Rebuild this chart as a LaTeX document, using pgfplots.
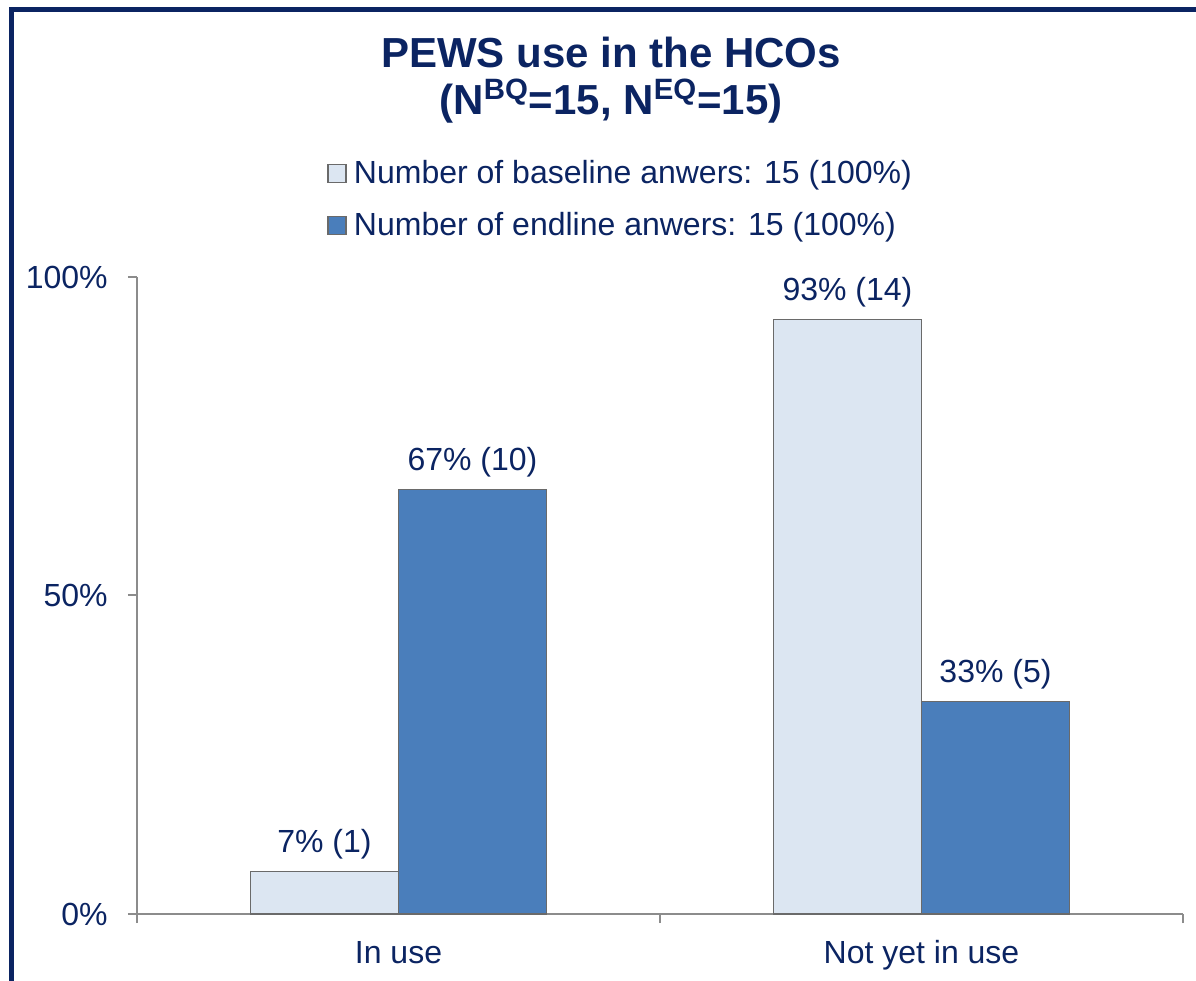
\documentclass[border=0pt]{standalone}
\usepackage{pgfplots}
\pgfplotsset{compat=1.18}
\usepackage{fontspec}
\setmainfont{Liberation Sans}

\definecolor{navy}{HTML}{0B2462}
\definecolor{lightbar}{HTML}{DCE6F2}
\definecolor{bluebar}{HTML}{4A7EBB}
\definecolor{barline}{HTML}{6A6A6A}
\definecolor{axisgray}{HTML}{8C8C8C}

\newcommand{\lbl}{\fontsize{16}{19}\selectfont}

\begin{document}
\begin{tikzpicture}
\begin{axis}[
    width=523pt, height=318.5pt,
    scale only axis,
    ybar,
    bar width=74pt,
    xmin=-0.5, xmax=1.5,
    ymin=0, ymax=100,
    axis lines*=left,
    axis line style={axisgray, line width=1pt},
    tick style={axisgray, line width=1pt},
    tick align=outside,
    major tick length=4.5pt,
    ytick={0,50,100},
    yticklabels={0\%,50\%,100\%},
    yticklabel style={font=\lbl, text=navy, anchor=east, inner sep=0pt, xshift=-10pt},
    xtick={-0.5,0.5,1.5},
    xticklabels={,,},
    extra x ticks={0,1},
    extra x tick labels={In use,Not yet in use},
    extra x tick style={major tick length=0pt},
    xticklabel style={font=\lbl, text=navy, anchor=base, inner sep=0pt, yshift=-24.5pt},
    point meta=explicit symbolic,
    nodes near coords,
    nodes near coords style={font=\lbl, text=navy, anchor=base, inner sep=0pt, yshift=9.5pt},
    legend cell align=left,
    legend style={at={(0.18164,1.1852)}, anchor=north west, draw=none, fill=none,
        font=\lbl, text=navy, inner sep=0pt, row sep=10pt, column sep=3.5pt,
        nodes={inner sep=0pt, text height=12pt, text depth=4pt}},
]
\addplot[fill=lightbar, draw=barline, line width=0.8pt, bar shift=-37pt,
    legend image code/.code={\draw[fill=lightbar, draw=barline, line width=0.8pt] (0pt,-3.5pt) rectangle (9pt,5.5pt);}]
    coordinates {(0,6.667) [{7\% (1)}] (1,93.333) [{93\% (14)}]};
\addlegendentry{Number of baseline anwers: 15 (100\%)}
\addplot[fill=bluebar, draw=barline, line width=0.8pt, bar shift=37pt,
    legend image code/.code={\draw[fill=bluebar, draw=barline, line width=0.8pt] (0pt,-3.5pt) rectangle (9pt,5.5pt);}]
    coordinates {(0,66.667) [{67\% (10)}] (1,33.333) [{33\% (5)}]};
\addlegendentry{Number of endline anwers: 15 (100\%)}
\end{axis}

% title
\node[anchor=base, text=navy, font=\fontsize{21}{25}\selectfont\bfseries] at (237pt,423pt) {PEWS use in the HCOs};
\node[anchor=base, text=navy, font=\fontsize{21}{25}\selectfont\bfseries] at (237pt,399.5pt) {(N\textsuperscript{BQ}=15, N\textsuperscript{EQ}=15)};

% outer frame (left and top edges)
\draw[navy, line width=2.5pt] (-62.75pt,-40pt) -- (-62.75pt,452.25pt) -- (540pt,452.25pt);

\pgfresetboundingbox
\path[use as bounding box] (-68.5pt,-33.5pt) rectangle (529.5pt,457pt);
\end{tikzpicture}
\end{document}
